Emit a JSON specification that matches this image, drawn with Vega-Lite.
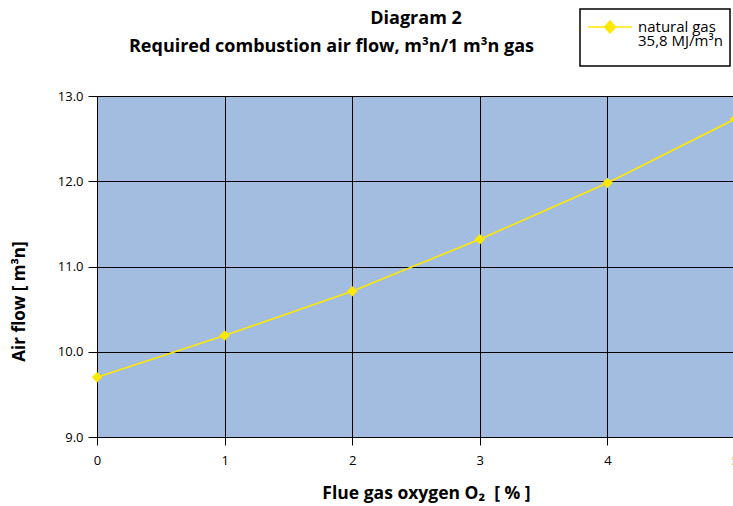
{
  "$schema": "https://vega.github.io/schema/vega-lite/v6.json",
  "autosize": {"type": "none"},
  "padding": {"left": 97, "top": 96, "right": 0, "bottom": 69},
  "width": 638,
  "height": 341,
  "background": "white",
  "title": {
    "text": "Diagram 2",
    "subtitle": "Required combustion air flow, m³n/1 m³n gas\u2800\u2800\u2800\u2800\u2800\u2800\u2800\u2800\u2800\u2800\u2800\u2800\u2800",
    "anchor": "middle",
    "frame": "group",
    "font": "Open Sans",
    "fontSize": 18,
    "fontWeight": "bold",
    "subtitleFont": "Open Sans",
    "subtitleFontSize": 18,
    "subtitleFontWeight": "bold",
    "subtitleColor": "black",
    "subtitlePadding": 10,
    "color": "black",
    "offset": -48
  },
  "config": {
    "view": {"fill": "#a3bde0", "stroke": "black", "strokeWidth": 1},
    "font": "Open Sans"
  },
  "data": {
    "values": [
      {"o2": 0, "air": 9.70, "series": "natural gas"},
      {"o2": 1, "air": 10.19, "series": "natural gas"},
      {"o2": 2, "air": 10.71, "series": "natural gas"},
      {"o2": 3, "air": 11.32, "series": "natural gas"},
      {"o2": 4, "air": 11.98, "series": "natural gas"},
      {"o2": 5, "air": 12.73, "series": "natural gas"}
    ]
  },
  "mark": {
    "type": "line",
    "strokeWidth": 1.6,
    "point": {"shape": "diamond", "size": 110, "filled": true, "color": "#ffe800", "opacity": 1}
  },
  "encoding": {
    "x": {
      "field": "o2",
      "type": "quantitative",
      "scale": {"domain": [0, 5], "nice": false},
      "axis": {
        "values": [0, 1, 2, 3, 4, 5],
        "format": "d",
        "title": "Flue gas oxygen O₂\u00a0\u00a0[\u00a0%\u00a0]",
        "titleFont": "Open Sans",
        "titleFontSize": 17.5,
        "titleFontWeight": "bold",
        "titleColor": "black",
        "titlePadding": 17,
        "titleX": 329,
        "labelFont": "Open Sans",
        "labelFontSize": 13,
        "labelColor": "black",
        "labelPadding": 9,
        "labelFlush": false,
        "tickSize": 8,
        "tickColor": "black",
        "domainColor": "black",
        "gridColor": "black",
        "gridOpacity": 1,
        "gridWidth": 1
      }
    },
    "y": {
      "field": "air",
      "type": "quantitative",
      "scale": {"domain": [9, 13], "nice": false, "zero": false},
      "axis": {
        "values": [9, 10, 11, 12, 13],
        "format": ".1f",
        "title": "Air flow [ m³n]",
        "titleFont": "Open Sans",
        "titleFontSize": 17,
        "titleFontWeight": "bold",
        "titleColor": "black",
        "titlePadding": 29,
        "titleY": 205,
        "labelFont": "Open Sans",
        "labelFontSize": 13,
        "labelColor": "black",
        "labelPadding": 5,
        "labelFlush": false,
        "tickSize": 9,
        "tickColor": "black",
        "domainColor": "black",
        "gridColor": "black",
        "gridOpacity": 1,
        "gridWidth": 1
      }
    },
    "color": {
      "field": "series",
      "type": "nominal",
      "scale": {"range": ["#ffe800"]},
      "legend": {
        "orient": "none",
        "legendX": 483,
        "legendY": -87,
        "title": " ",
        "titleOrient": "bottom",
        "titleFontSize": 8,
        "titlePadding": 2,
        "strokeColor": "black",
        "fillColor": "white",
        "padding": 7,
        "symbolType": "M-2.2,0H2.2M0,-0.6L0.55,0L0,0.6L-0.55,0Z",
        "symbolSize": 400,
        "symbolOffset": 12,
        "symbolStrokeWidth": 1.5,
        "symbolFillColor": "#ffe800",
        "symbolStrokeColor": "#ffe800",
        "labelExpr": "['natural gas', '35,8 MJ/m³n']",
        "labelFont": "Open Sans",
        "labelFontSize": 15,
        "labelColor": "black",
        "labelBaseline": "middle",
        "labelOffset": 17,
        "labelLimit": 200,
        "encode": {
          "legend": {"update": {"strokeWidth": {"value": 1.5}}},
          "labels": {"update": {"lineHeight": {"value": 14}}}
        }
      }
    }
  }
}
